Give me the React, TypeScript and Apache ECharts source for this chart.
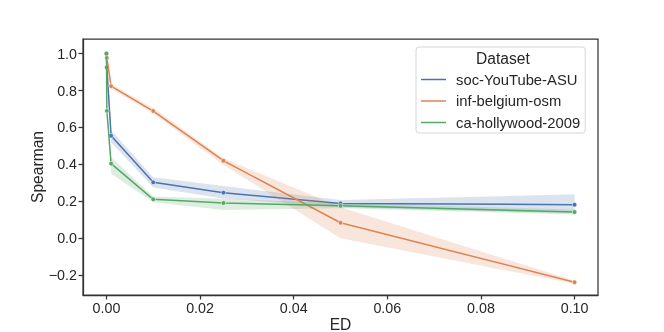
import React, { useEffect, useRef } from "react";
import * as echarts from "echarts";

const edValues = [0, 0.0001, 0.001, 0.01, 0.025, 0.05, 0.1];
const seriesNames = ["soc-YouTube-ASU", "inf-belgium-osm", "ca-hollywood-2009"];
const colors = ["#4c72b0", "#dd8452", "#55a868"];

const youtubeMean = [1.0, 0.925, 0.555, 0.303, 0.247, 0.189, 0.182];
const youtubeLow = [1.0, 0.9, 0.52, 0.275, 0.216, 0.168, 0.135];
const youtubeHigh = [1.0, 0.95, 0.585, 0.33, 0.283, 0.207, 0.238];

const belgiumMean = [1.0, 0.977, 0.824, 0.689, 0.42, 0.084, -0.238];
const belgiumLow = [1.0, 0.965, 0.81, 0.675, 0.397, 0.0, -0.246];
const belgiumHigh = [1.0, 0.99, 0.835, 0.705, 0.433, 0.168, -0.23];

const hollywoodMean = [1.0, 0.69, 0.404, 0.211, 0.191, 0.176, 0.142];
const hollywoodLow = [1.0, 0.66, 0.35, 0.195, 0.153, 0.163, 0.128];
const hollywoodHigh = [1.0, 0.72, 0.44, 0.226, 0.214, 0.19, 0.156];

const xTicks = [0, 0.02, 0.04, 0.06, 0.08, 0.1];
const yTicks = [-0.2, 0, 0.2, 0.4, 0.6, 0.8, 1.0];

const means = [youtubeMean, belgiumMean, hollywoodMean];
const lows = [youtubeLow, belgiumLow, hollywoodLow];
const highs = [youtubeHigh, belgiumHigh, hollywoodHigh];

const FONT = "'Liberation Sans', Arial, sans-serif";
const TXT = "#262626";

export default function App() {
  const ref = useRef<HTMLDivElement>(null);
  useEffect(() => {
    if (!ref.current) return;
    const chart = echarts.init(ref.current, undefined, { renderer: "svg" });
    const series: any[] = [];
    seriesNames.forEach((name, i) => {
      const lo = lows[i];
      const hi = highs[i];
      series.push({
        type: "custom",
        name: name + " band",
        silent: true,
        z: 1 + i * 2,
        data: [[edValues[0], means[i][0]]],
        renderItem: (_params: any, api: any) => {
          const pts: number[][] = [];
          for (let k = 0; k < edValues.length; k++) pts.push(api.coord([edValues[k], hi[k]]));
          for (let k = edValues.length - 1; k >= 0; k--) pts.push(api.coord([edValues[k], lo[k]]));
          return {
            type: "polygon",
            shape: { points: pts },
            style: { fill: colors[i], opacity: 0.2, stroke: "none" },
          };
        },
      });
      series.push({
        type: "line",
        name,
        z: 2 + i * 2,
        data: edValues.map((x, k) => [x, means[i][k]]),
        symbol: "circle",
        symbolSize: 4.5,
        showSymbol: true,
        color: colors[i],
        lineStyle: { color: colors[i], width: 1.5 },
        itemStyle: { color: colors[i], borderColor: "#ffffff", borderWidth: 0.5 },
        emphasis: { disabled: true },
      });
    });

    chart.setOption({
      animation: false,
      textStyle: { fontFamily: FONT },
      grid: {
        left: 83,
        top: 39,
        right: 66,
        bottom: 37,
        outerBoundsMode: "none",
        containLabel: false,
        show: true,
        borderColor: "#333333",
        borderWidth: 1.25,
        backgroundColor: "transparent",
      },
      xAxis: {
        type: "value",
        min: -0.005,
        max: 0.105,
        name: "ED",
        nameLocation: "middle",
        nameGap: 21,
        nameMoveOverlap: false,
        nameTextStyle: { fontSize: 15.6, color: TXT, fontFamily: FONT },
        splitLine: { show: false },
        axisLine: { show: true, onZero: false, lineStyle: { color: "#333333", width: 1.25 } },
        axisTick: {
          show: true,
          customValues: xTicks,
          length: 4.5,
          lineStyle: { color: "#333333", width: 1.25 },
        },
        axisLabel: {
          customValues: xTicks,
          fontSize: 14.3,
          color: TXT,
          margin: 6,
          fontFamily: FONT,
          formatter: (v: number) => v.toFixed(2),
        },
      },
      yAxis: {
        type: "value",
        min: -0.307,
        max: 1.079,
        name: "Spearman",
        nameLocation: "middle",
        nameGap: 38,
        nameMoveOverlap: false,
        nameTextStyle: { fontSize: 15.6, color: TXT, fontFamily: FONT },
        splitLine: { show: false },
        axisLine: { show: true, onZero: false, lineStyle: { color: "#333333", width: 1.25 } },
        axisTick: {
          show: true,
          customValues: yTicks,
          length: 4.5,
          lineStyle: { color: "#333333", width: 1.25 },
        },
        axisLabel: {
          customValues: yTicks,
          fontSize: 14.3,
          color: TXT,
          margin: 6,
          fontFamily: FONT,
          formatter: (v: number) => (v < 0 ? "\u2212" + Math.abs(v).toFixed(1) : v.toFixed(1)),
        },
      },
      legend: {
        orient: "vertical",
        left: 416,
        top: 47,
        padding: [25, 5, 3, 5],
        itemGap: 6.5,
        itemWidth: 25,
        itemHeight: 1.5,
        icon: "rect",
        backgroundColor: "rgba(255,255,255,0.8)",
        borderColor: "#d6d6d6",
        borderWidth: 1,
        borderRadius: 3,
        itemStyle: { borderWidth: 0, opacity: 1 },
        data: seriesNames.map((n, i) => ({
          name: n,
          icon: "rect",
          itemStyle: { color: colors[i], borderWidth: 0, opacity: 1 },
        })),
        textStyle: {
          fontSize: 14.8,
          color: TXT,
          fontFamily: FONT,
          lineHeight: 15,
          padding: [0, 0, 0, 5],
        },
        selectedMode: false,
      },
      graphic: [
        {
          type: "text",
          left: 476,
          top: 50,
          z: 100,
          style: {
            text: "Dataset",
            fontSize: 15.6,
            fill: TXT,
            fontFamily: FONT,
          },
        },
      ],
      series,
    });
    return () => chart.dispose();
  }, []);
  return (
    <div
      ref={ref}
      style={{ width: 664, height: 332, position: "fixed", left: 0, top: 0 }}
    />
  );
}
